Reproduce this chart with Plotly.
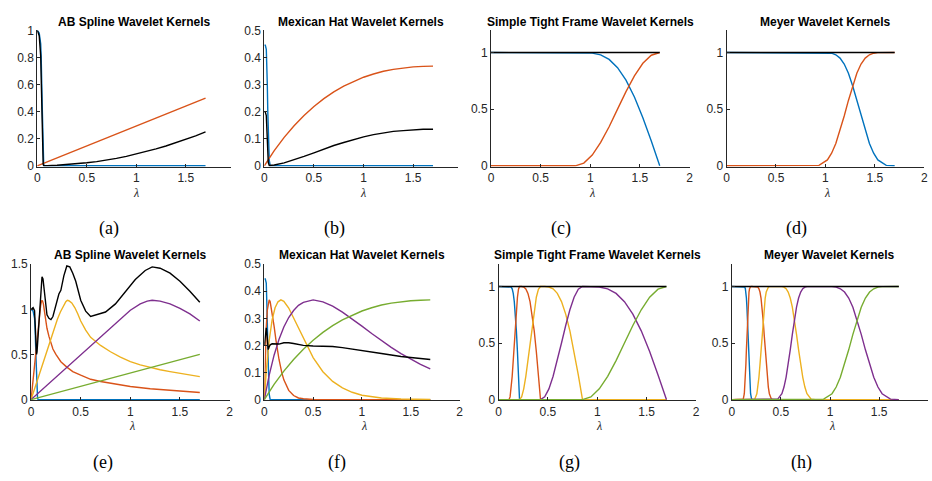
import plotly.graph_objects as go

W, H = 932, 481

# ---------------- colours ----------------
BLUE, ORANGE, YELLOW, PURPLE, GREEN, BLACK = "#0072BD", "#D95319", "#EDB120", "#7E2F8E", "#77AC30", "#000000"

titles = ["AB Spline Wavelet Kernels", "Mexican Hat Wavelet Kernels",
          "Simple Tight Frame Wavelet Kernels", "Meyer Wavelet Kernels",
          "AB Spline Wavelet Kernels", "Mexican Hat Wavelet Kernels",
          "Simple Tight Frame Wavelet Kernels", "Meyer Wavelet Kernels"]
panel_labels = ["(a)", "(b)", "(c)", "(d)", "(e)", "(f)", "(g)", "(h)"]

# ---------------- (a) AB spline, 1 scale ----------------
a_lam_blue = [0, 0.02, 0.035, 0.04, 0.05, 0.055, 0.06, 0.065, 0.07, 1.7]
a_blue = [1, 0.98, 0.9, 0.8, 0.45, 0.25, 0.1, 0.02, 0, 0]
a_lam_orange = [0, 0.5, 1.0, 1.5, 1.7]
a_orange = [0, 0.147, 0.294, 0.441, 0.5]
a_lam_sum = [0, 0.02, 0.035, 0.04, 0.05, 0.055, 0.06, 0.065, 0.07, 0.1, 0.2, 0.3, 0.4, 0.5,
             0.6, 0.7, 0.8, 0.9, 1.0, 1.1, 1.2, 1.3, 1.4, 1.5, 1.6, 1.7]
a_sum = [1, 0.96, 0.81, 0.64, 0.2, 0.063, 0.01, 0.001, 0.0004, 0.001, 0.0035, 0.008, 0.014, 0.022,
         0.031, 0.042, 0.055, 0.07, 0.087, 0.105, 0.125, 0.146, 0.17, 0.195, 0.221, 0.25]

# ---------------- (b) Mexican hat, 1 scale ----------------
b_lam_blue = [0, 0.01, 0.02, 0.025, 0.03, 0.035, 0.04, 0.05, 0.06, 1.7]
b_blue = [0.445, 0.445, 0.43, 0.38, 0.3, 0.2, 0.11, 0.02, 0, 0]
b_lam_orange = [0, 0.1, 0.2, 0.3, 0.4, 0.5, 0.6, 0.7, 0.8, 0.9, 1.0, 1.1, 1.2, 1.3, 1.4, 1.5, 1.6, 1.7]
b_orange = [0, 0.056, 0.105, 0.148, 0.186, 0.219, 0.248, 0.273, 0.294, 0.312, 0.327, 0.339,
            0.349, 0.356, 0.361, 0.365, 0.367, 0.368]
b_lam_sum = [0, 0.01, 0.02, 0.025, 0.03, 0.035, 0.04, 0.05, 0.06, 0.1, 0.2, 0.3, 0.4, 0.5, 0.6,
             0.7, 0.8, 0.9, 1.0, 1.1, 1.2, 1.3, 1.4, 1.5, 1.6, 1.7]
b_sum = [0.198, 0.198, 0.185, 0.144, 0.09, 0.04, 0.012, 0.001, 0.001, 0.003, 0.011, 0.022, 0.035,
         0.048, 0.062, 0.075, 0.086, 0.097, 0.107, 0.115, 0.122, 0.127, 0.130, 0.133, 0.135, 0.135]

# ---------------- (c) Simple tight frame, 1 scale ----------------
c_lam = [0, 0.85, 0.935, 1.02, 1.105, 1.19, 1.275, 1.36, 1.445, 1.53, 1.615, 1.7]
c_blue = [1, 1, 1.0, 0.995, 0.979, 0.939, 0.866, 0.756, 0.608, 0.425, 0.218, 0]
c_orange = [0, 0, 0.024, 0.095, 0.206, 0.345, 0.5, 0.655, 0.794, 0.905, 0.976, 1]
c_lam_sum = [0, 1.7]
c_sum = [1, 1]

# ---------------- (d) Meyer, 1 scale ----------------
d_lam = [0, 0.85, 0.935, 1.02, 1.0625, 1.105, 1.1475, 1.19, 1.2325, 1.275, 1.3175, 1.36,
         1.4025, 1.445, 1.4875, 1.53, 1.615, 1.7]
d_blue = [1, 1, 1.0, 0.999, 0.994, 0.98, 0.951, 0.898, 0.817, 0.707, 0.577, 0.44, 0.309,
          0.197, 0.111, 0.052, 0.004, 0]
d_orange = [0, 0, 0.004, 0.052, 0.111, 0.197, 0.309, 0.44, 0.577, 0.707, 0.817, 0.898, 0.951,
            0.98, 0.994, 0.999, 1.0, 1]
d_lam_sum = [0, 1.7]
d_sum = [1, 1]

# ---------------- (e) AB spline, 4 scales ----------------
e_lam_blue = [0, 0.02, 0.035, 0.04, 0.05, 0.055, 0.06, 0.065, 0.07, 1.7]
e_blue = [1, 0.98, 0.9, 0.8, 0.45, 0.25, 0.1, 0.02, 0, 0]
e_lam_orange = [0, 0.0174, 0.035, 0.052, 0.07, 0.078, 0.087, 0.096, 0.104, 0.11, 0.116, 0.124,
                0.132, 0.14, 0.15, 0.16, 0.18, 0.2, 0.22, 0.25, 0.3, 0.36, 0.42, 0.5, 0.6, 0.7,
                0.8, 1.0, 1.2, 1.4, 1.7]
e_orange = [0, 0.2, 0.4, 0.6, 0.8, 0.89, 0.97, 1.04, 1.085, 1.1, 1.09, 1.06, 1.0, 0.93, 0.86,
            0.79, 0.7, 0.62, 0.56, 0.5, 0.42, 0.36, 0.31, 0.27, 0.225, 0.2, 0.18, 0.145, 0.12,
            0.1, 0.078]
e_lam_yellow = [0, 0.059, 0.118, 0.177, 0.236, 0.265, 0.295, 0.324, 0.35, 0.365, 0.38, 0.41,
                0.44, 0.47, 0.5, 0.55, 0.6, 0.7, 0.8, 0.9, 1.0, 1.1, 1.2, 1.3, 1.4, 1.5, 1.6, 1.7]
e_yellow = [0, 0.2, 0.4, 0.6, 0.8, 0.89, 0.97, 1.04, 1.085, 1.1, 1.095, 1.07, 1.02, 0.95, 0.87,
            0.77, 0.69, 0.6, 0.53, 0.47, 0.42, 0.385, 0.355, 0.33, 0.31, 0.29, 0.27, 0.255]
e_lam_purple = [0, 0.2, 0.4, 0.6, 0.8, 0.9, 1.0, 1.1, 1.17, 1.22, 1.3, 1.4, 1.5, 1.6, 1.7]
e_purple = [0, 0.2, 0.4, 0.6, 0.8, 0.9, 0.99, 1.06, 1.09, 1.1, 1.09, 1.06, 1.01, 0.95, 0.87]
e_lam_green = [0, 0.5, 1.0, 1.5, 1.7]
e_green = [0, 0.147, 0.294, 0.441, 0.5]
e_lam_sum = [0, 0.02, 0.035, 0.04, 0.05, 0.055, 0.06, 0.07, 0.08, 0.09, 0.1, 0.11, 0.12, 0.13,
             0.145, 0.16, 0.18, 0.2, 0.22, 0.25, 0.28, 0.3, 0.33, 0.36, 0.39, 0.42, 0.45, 0.5,
             0.55, 0.6, 0.67, 0.75, 0.85, 0.95, 1.05, 1.15, 1.22, 1.3, 1.4, 1.5, 1.6, 1.7]
e_sum = [1, 1.018, 0.984, 0.87, 0.56, 0.5, 0.527, 0.7, 0.91, 1.08, 1.25, 1.36, 1.336, 1.24,
         1.06, 0.94, 0.9, 0.886, 0.92, 1.04, 1.17, 1.21, 1.37, 1.48, 1.47, 1.4, 1.31, 1.1,
         0.98, 0.92, 0.94, 0.97, 1.06, 1.2, 1.33, 1.43, 1.47, 1.455, 1.4, 1.31, 1.2, 1.078]

# ---------------- (f) Mexican hat, 4 scales ----------------
f_lam_blue = [0, 0.01, 0.02, 0.025, 0.03, 0.035, 0.04, 0.05, 0.06, 1.7]
f_blue = [0.445, 0.445, 0.43, 0.38, 0.3, 0.2, 0.11, 0.02, 0, 0]
f_lam_orange = [0, 0.01, 0.02, 0.03, 0.04, 0.05, 0.06, 0.08, 0.1, 0.12, 0.15, 0.18, 0.2, 0.25,
                0.3, 0.35, 0.4, 0.5, 1.7]
f_orange = [0, 0.164, 0.268, 0.329, 0.359, 0.368, 0.361, 0.323, 0.271, 0.218, 0.149, 0.098,
            0.073, 0.034, 0.015, 0.006, 0.003, 0.0005, 0]
f_lam_yellow = [0, 0.02, 0.05, 0.08, 0.11, 0.14, 0.17, 0.2, 0.25, 0.3, 0.35, 0.4, 0.5, 0.6, 0.7,
                0.8, 0.9, 1.0, 1.2, 1.4, 1.7]
f_yellow = [0, 0.105, 0.219, 0.294, 0.339, 0.361, 0.368, 0.363, 0.338, 0.302, 0.263, 0.224,
            0.155, 0.103, 0.067, 0.043, 0.027, 0.016, 0.006, 0.002, 0.0005]
f_lam_purple = [0, 0.05, 0.1, 0.15, 0.2, 0.25, 0.3, 0.35, 0.4, 0.5, 0.6, 0.7, 0.8, 0.9, 1.0,
                1.1, 1.2, 1.3, 1.4, 1.5, 1.6, 1.7]
f_purple = [0, 0.0905, 0.164, 0.222, 0.268, 0.303, 0.329, 0.348, 0.359, 0.368, 0.361, 0.345,
            0.323, 0.298, 0.271, 0.244, 0.218, 0.193, 0.170, 0.149, 0.130, 0.113]
f_lam_green = [0, 0.1, 0.2, 0.3, 0.4, 0.5, 0.6, 0.7, 0.8, 0.9, 1.0, 1.1, 1.2, 1.3, 1.4, 1.5, 1.6, 1.7]
f_green = [0, 0.056, 0.105, 0.148, 0.186, 0.219, 0.248, 0.273, 0.294, 0.312, 0.327, 0.339,
           0.349, 0.356, 0.361, 0.365, 0.367, 0.368]
f_lam_sum = [0, 0.01, 0.02, 0.025, 0.03, 0.035, 0.04, 0.05, 0.06, 0.08, 0.1, 0.12, 0.15, 0.2,
             0.25, 0.3, 0.4, 0.5, 0.6, 0.7, 0.8, 0.9, 1.0, 1.2, 1.4, 1.5, 1.6, 1.7]
f_sum = [0.198, 0.228, 0.265, 0.25, 0.215, 0.19, 0.185, 0.195, 0.202, 0.206, 0.205, 0.204,
         0.205, 0.21, 0.21, 0.207, 0.2, 0.198, 0.197, 0.196, 0.192, 0.187, 0.181, 0.17,
         0.159, 0.155, 0.152, 0.148]

# ---------------- (g) Simple tight frame, 4 scales ----------------
g_lam_blue = [0, 0.10625, 0.116875, 0.1275, 0.138125, 0.14875, 0.159375, 0.17, 0.180625,
              0.19125, 0.201875, 0.2125, 1.7]
g_blue = [1, 1, 1.0, 0.995, 0.979, 0.939, 0.866, 0.756, 0.608, 0.425, 0.218, 0, 0]
g_lam_orange = [0, 0.10625, 0.116875, 0.1275, 0.138125, 0.14875, 0.159375, 0.17, 0.180625,
                0.19125, 0.201875, 0.2125, 0.23375, 0.255, 0.27625, 0.2975, 0.31875, 0.34,
                0.36125, 0.3825, 0.40375, 0.425, 1.7]
g_orange = [0, 0, 0.024, 0.095, 0.206, 0.345, 0.5, 0.655, 0.794, 0.905, 0.976, 1, 1.0, 0.995,
            0.979, 0.939, 0.866, 0.756, 0.608, 0.425, 0.218, 0, 0]
g_lam_yellow = [0, 0.2125, 0.23375, 0.255, 0.27625, 0.2975, 0.31875, 0.34, 0.36125, 0.3825,
                0.40375, 0.425, 0.4675, 0.51, 0.5525, 0.595, 0.6375, 0.68, 0.7225, 0.765,
                0.8075, 0.85, 1.7]
g_yellow = [0, 0, 0.024, 0.095, 0.206, 0.345, 0.5, 0.655, 0.794, 0.905, 0.976, 1, 1.0, 0.995,
            0.979, 0.939, 0.866, 0.756, 0.608, 0.425, 0.218, 0, 0]
g_lam_purple = [0, 0.425, 0.4675, 0.51, 0.5525, 0.595, 0.6375, 0.68, 0.7225, 0.765, 0.8075,
                0.85, 0.935, 1.02, 1.105, 1.19, 1.275, 1.36, 1.445, 1.53, 1.615, 1.7]
g_purple = [0, 0, 0.024, 0.095, 0.206, 0.345, 0.5, 0.655, 0.794, 0.905, 0.976, 1, 1.0, 0.995,
            0.979, 0.939, 0.866, 0.756, 0.608, 0.425, 0.218, 0]
g_lam_green = [0, 0.85, 0.935, 1.02, 1.105, 1.19, 1.275, 1.36, 1.445, 1.53, 1.615, 1.7]
g_green = [0, 0, 0.024, 0.095, 0.206, 0.345, 0.5, 0.655, 0.794, 0.905, 0.976, 1]
g_lam_sum = [0, 1.7]
g_sum = [1, 1]

# ---------------- (h) Meyer, 4 scales ----------------
h_lam_blue = [0, 0.10625, 0.116875, 0.1275, 0.1328, 0.138125, 0.1434, 0.14875, 0.1541,
              0.159375, 0.1647, 0.17, 0.1753, 0.180625, 0.1859, 0.19125, 0.201875, 0.2125, 1.7]
h_blue = [1, 1, 1.0, 0.999, 0.994, 0.98, 0.951, 0.898, 0.817, 0.707, 0.577, 0.44, 0.309,
          0.197, 0.111, 0.052, 0.004, 0, 0]
h_lam_orange = [0, 0.10625, 0.116875, 0.1275, 0.1328, 0.138125, 0.1434, 0.14875, 0.1541,
                0.159375, 0.1647, 0.17, 0.1753, 0.180625, 0.1859, 0.19125, 0.201875, 0.2125,
                0.23375, 0.255, 0.2656, 0.27625, 0.2869, 0.2975, 0.3081, 0.31875, 0.3294,
                0.34, 0.3506, 0.36125, 0.3719, 0.3825, 0.40375, 0.425, 1.7]
h_orange = [0, 0, 0.004, 0.052, 0.111, 0.197, 0.309, 0.44, 0.577, 0.707, 0.817, 0.898, 0.951,
            0.98, 0.994, 0.999, 1.0, 1, 1.0, 0.999, 0.994, 0.98, 0.951, 0.898, 0.817, 0.707,
            0.577, 0.44, 0.309, 0.197, 0.111, 0.052, 0.004, 0, 0]
h_lam_yellow = [0, 0.2125, 0.23375, 0.255, 0.2656, 0.27625, 0.2869, 0.2975, 0.3081, 0.31875,
                0.3294, 0.34, 0.3506, 0.36125, 0.3719, 0.3825, 0.40375, 0.425, 0.4675, 0.51,
                0.5313, 0.5525, 0.5738, 0.595, 0.6163, 0.6375, 0.6588, 0.68, 0.7013, 0.7225,
                0.7438, 0.765, 0.8075, 0.85, 1.7]
h_yellow = [0, 0, 0.004, 0.052, 0.111, 0.197, 0.309, 0.44, 0.577, 0.707, 0.817, 0.898, 0.951,
            0.98, 0.994, 0.999, 1.0, 1, 1.0, 0.999, 0.994, 0.98, 0.951, 0.898, 0.817, 0.707,
            0.577, 0.44, 0.309, 0.197, 0.111, 0.052, 0.004, 0, 0]
h_lam_purple = [0, 0.425, 0.4675, 0.51, 0.5313, 0.5525, 0.5738, 0.595, 0.6163, 0.6375, 0.6588,
                0.68, 0.7013, 0.7225, 0.7438, 0.765, 0.8075, 0.85, 0.935, 1.02, 1.0625, 1.105,
                1.1475, 1.19, 1.2325, 1.275, 1.3175, 1.36, 1.4025, 1.445, 1.4875, 1.53, 1.615,
                1.7]
h_purple = [0, 0, 0.004, 0.052, 0.111, 0.197, 0.309, 0.44, 0.577, 0.707, 0.817, 0.898, 0.951,
            0.98, 0.994, 0.999, 1.0, 1, 1.0, 0.999, 0.994, 0.98, 0.951, 0.898, 0.817, 0.707,
            0.577, 0.44, 0.309, 0.197, 0.111, 0.052, 0.004, 0]
h_lam_green = [0, 0.85, 0.935, 1.02, 1.0625, 1.105, 1.1475, 1.19, 1.2325, 1.275, 1.3175, 1.36,
               1.4025, 1.445, 1.4875, 1.53, 1.615, 1.7]
h_green = [0, 0, 0.004, 0.052, 0.111, 0.197, 0.309, 0.44, 0.577, 0.707, 0.817, 0.898, 0.951,
           0.98, 0.994, 0.999, 1.0, 1]
h_lam_sum = [0, 1.7]
h_sum = [1, 1]

# ---------------- axis ticks ----------------
x_ticks_short = [0, 0.5, 1, 1.5]
x_ticks_full = [0, 0.5, 1, 1.5, 2]
y_ticks_a = [0, 0.2, 0.4, 0.6, 0.8, 1]
y_ticks_b = [0, 0.1, 0.2, 0.3, 0.4, 0.5]
y_ticks_c = [0, 0.5, 1]
y_ticks_e = [0, 0.5, 1, 1.5]


def fmt(v):
    return ("%g" % v)


# layout geometry in pixels: (x0, x1, xmax, ybottom, ytop, ymax, xticks, yticks)
geom = [
    (34.5, 230.0, 1.96, 164.0, 24.0, 1.0, x_ticks_short, y_ticks_a),
    (263.3, 458.0, 1.947, 164.0, 24.0, 0.5, x_ticks_short, y_ticks_b),
    (491.7, 691.7, 2.0, 164.0, 23.5, 1.2, x_ticks_full, y_ticks_c),
    (729.0, 928.3, 2.0, 164.0, 23.5, 1.2, x_ticks_full, y_ticks_c),
    (28.3, 228.3, 2.0, 404.3, 264.3, 1.5, x_ticks_full, y_ticks_e),
    (263.3, 460.0, 2.0, 404.3, 264.3, 0.5, x_ticks_full, y_ticks_b),
    (499.3, 698.3, 2.0, 404.3, 264.0, 1.2, x_ticks_full, y_ticks_c),
    (734.3, 932.0, 1.997, 404.3, 264.0, 1.2, x_ticks_short, y_ticks_c),
]

series = [
    [(a_lam_blue, a_blue, BLUE), (a_lam_orange, a_orange, ORANGE), (a_lam_sum, a_sum, BLACK)],
    [(b_lam_blue, b_blue, BLUE), (b_lam_orange, b_orange, ORANGE), (b_lam_sum, b_sum, BLACK)],
    [(c_lam, c_blue, BLUE), (c_lam, c_orange, ORANGE), (c_lam_sum, c_sum, BLACK)],
    [(d_lam, d_blue, BLUE), (d_lam, d_orange, ORANGE), (d_lam_sum, d_sum, BLACK)],
    [(e_lam_blue, e_blue, BLUE), (e_lam_orange, e_orange, ORANGE), (e_lam_yellow, e_yellow, YELLOW),
     (e_lam_purple, e_purple, PURPLE), (e_lam_green, e_green, GREEN), (e_lam_sum, e_sum, BLACK)],
    [(f_lam_blue, f_blue, BLUE), (f_lam_orange, f_orange, ORANGE), (f_lam_yellow, f_yellow, YELLOW),
     (f_lam_purple, f_purple, PURPLE), (f_lam_green, f_green, GREEN), (f_lam_sum, f_sum, BLACK)],
    [(g_lam_blue, g_blue, BLUE), (g_lam_orange, g_orange, ORANGE), (g_lam_yellow, g_yellow, YELLOW),
     (g_lam_purple, g_purple, PURPLE), (g_lam_green, g_green, GREEN), (g_lam_sum, g_sum, BLACK)],
    [(h_lam_blue, h_blue, BLUE), (h_lam_orange, h_orange, ORANGE), (h_lam_yellow, h_yellow, YELLOW),
     (h_lam_purple, h_purple, PURPLE), (h_lam_green, h_green, GREEN), (h_lam_sum, h_sum, BLACK)],
]

fig = go.Figure()
AX = "#262626"
SANS = "Liberation Sans, Arial, Helvetica, sans-serif"
SERIF = "Liberation Serif, Times New Roman, serif"
LW = 1.4

label_pos = [(107, 228), (334, 228), (562, 228), (800, 228),
             (101, 468), (337, 468), (571, 468), (805, 468)]

annotations = []
for i, (g, ser) in enumerate(zip(geom, series)):
    k = i + 1
    sfx = "" if k == 1 else str(k)
    x0, x1, xmax, yb, yt, ymax, xt, yt_ticks = g
    # small negative lower limit so lines lying on zero are not half clipped
    ymin = -ymax * 0.8 / (yb - yt)
    for lam, vals, col in ser:
        fig.add_trace(go.Scatter(x=lam, y=vals, mode="lines",
                                 line=dict(color=col, width=LW),
                                 xaxis="x" + sfx, yaxis="y" + sfx,
                                 hoverinfo="skip", showlegend=False))
    common = dict(showline=True, linecolor=AX, linewidth=1, ticks="inside", ticklen=3,
                  tickcolor=AX, tickwidth=1, showgrid=False, zeroline=False,
                  tickfont=dict(family=SANS, size=12, color=AX))
    fig.layout["xaxis" + sfx] = dict(domain=[x0 / W, x1 / W], range=[0, xmax],
                                     anchor="y" + sfx, tickvals=xt,
                                     ticktext=[fmt(v) for v in xt], **common)
    fig.layout["yaxis" + sfx] = dict(domain=[1 - yb / H, 1 - yt / H], range=[ymin, ymax],
                                     anchor="x" + sfx, tickvals=yt_ticks,
                                     ticktext=[fmt(v) for v in yt_ticks], **common)
    cx = (x0 + x1) / 2
    title_y = 15 if i < 4 else 255
    annotations.append(dict(x=cx / W, y=1 - title_y / H, xref="paper", yref="paper",
                            text="<b>" + titles[i] + "</b>", showarrow=False,
                            xanchor="center", yanchor="middle",
                            font=dict(family=SANS, size=12, color="#000000")))
    lam_y = 191 if i < 4 else 431
    annotations.append(dict(x=(cx + 2) / W, y=1 - lam_y / H, xref="paper", yref="paper",
                            text="<i>λ</i>", showarrow=False, xanchor="center",
                            yanchor="middle", font=dict(family=SERIF, size=12, color=AX)))
    lx, ly = label_pos[i]
    annotations.append(dict(x=lx / W, y=1 - ly / H, xref="paper", yref="paper",
                            text=panel_labels[i], showarrow=False, xanchor="center",
                            yanchor="middle", font=dict(family=SERIF, size=18, color="#000000")))

fig.update_layout(width=W, height=H, margin=dict(l=0, r=0, t=0, b=0),
                  paper_bgcolor="white", plot_bgcolor="white", showlegend=False,
                  annotations=annotations)

fig.write_html("out.html")
